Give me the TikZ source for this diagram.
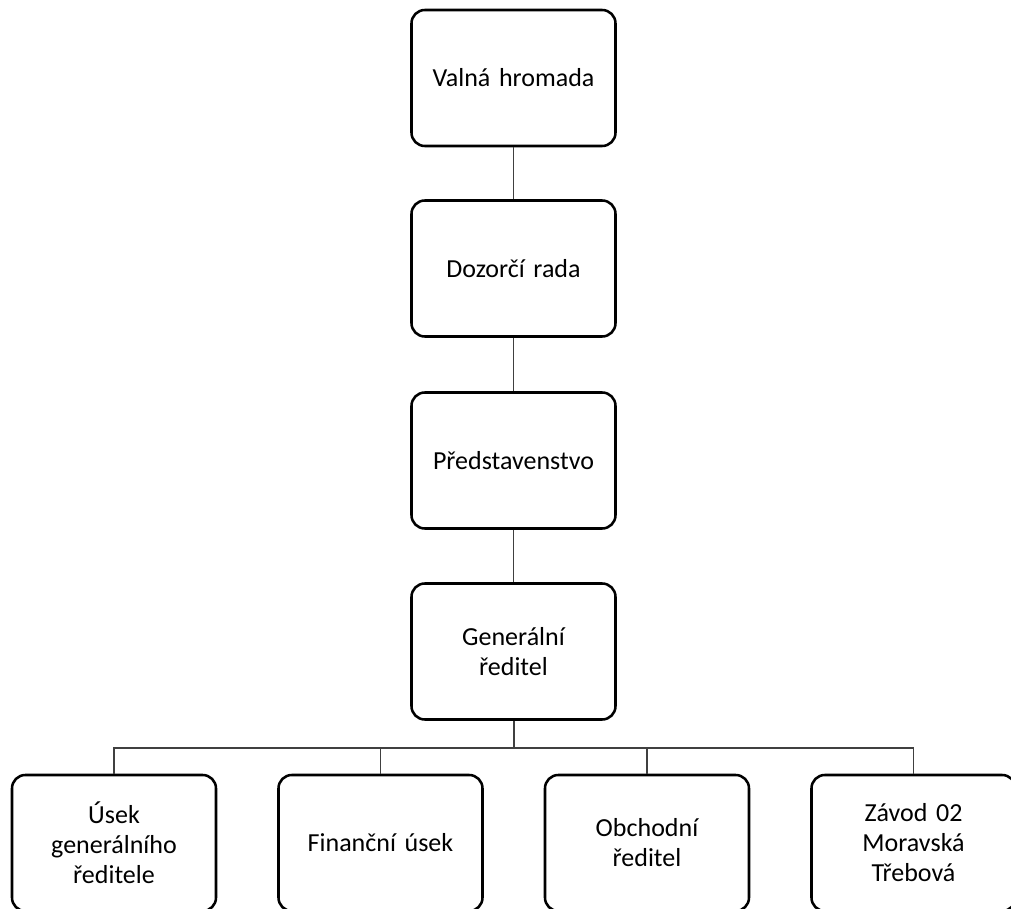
\documentclass[tikz,border=0pt]{standalone}
\usepackage{fontspec}
\setmainfont{Carlito}
\begin{document}
\begin{tikzpicture}[x=0.75pt,y=-0.75pt,
  box/.style={draw=black, line width=1.9pt, rounded corners=10pt, fill=white,
    minimum width=204*0.75pt, minimum height=136*0.75pt, inner sep=2pt,
    align=center, text width=190*0.75pt,
    font=\fontsize{19.5pt}{22.5pt}\selectfont},
  conn/.style={draw=black!75, line width=0.8pt}]
\useasboundingbox (0,0) rectangle (1011,909);
\clip (0,0) rectangle (1011,909);
\fill[white] (0,0) rectangle (1011,909);
\node[box] (v) at (513.5,78) {Valná hromada};
\node[box] (d) at (513.5,268.5) {Dozorčí rada};
\node[box] (p) at (513.5,460.5) {Představenstvo};
\node[box] (g) at (513.5,651.5) {Generální\\ředitel};
\node[box] (b1) at (114,843) {Úsek\\generálního\\ředitele};
\node[box] (b2) at (380.5,843) {Finanční úsek};
\node[box] (b3) at (647,843) {Obchodní\\ředitel};
\node[box] (b4) at (913.5,843) {Závod 02\\Moravská\\Třebová};
\coordinate (bus) at (513.5,748);
\draw[conn] (v) -- (d);
\draw[conn] (d) -- (p);
\draw[conn] (p) -- (g);
\draw[conn, line width=1.5pt] (g.south) -- (g.south |- bus);
\draw[conn] (g.south |- bus) -| (b1.north);
\draw[conn] (g.south |- bus) -| (b2.north);
\draw[conn] (g.south |- bus) -| (b3.north);
\draw[conn] (g.south |- bus) -| (b4.north);
\end{tikzpicture}
\end{document}
